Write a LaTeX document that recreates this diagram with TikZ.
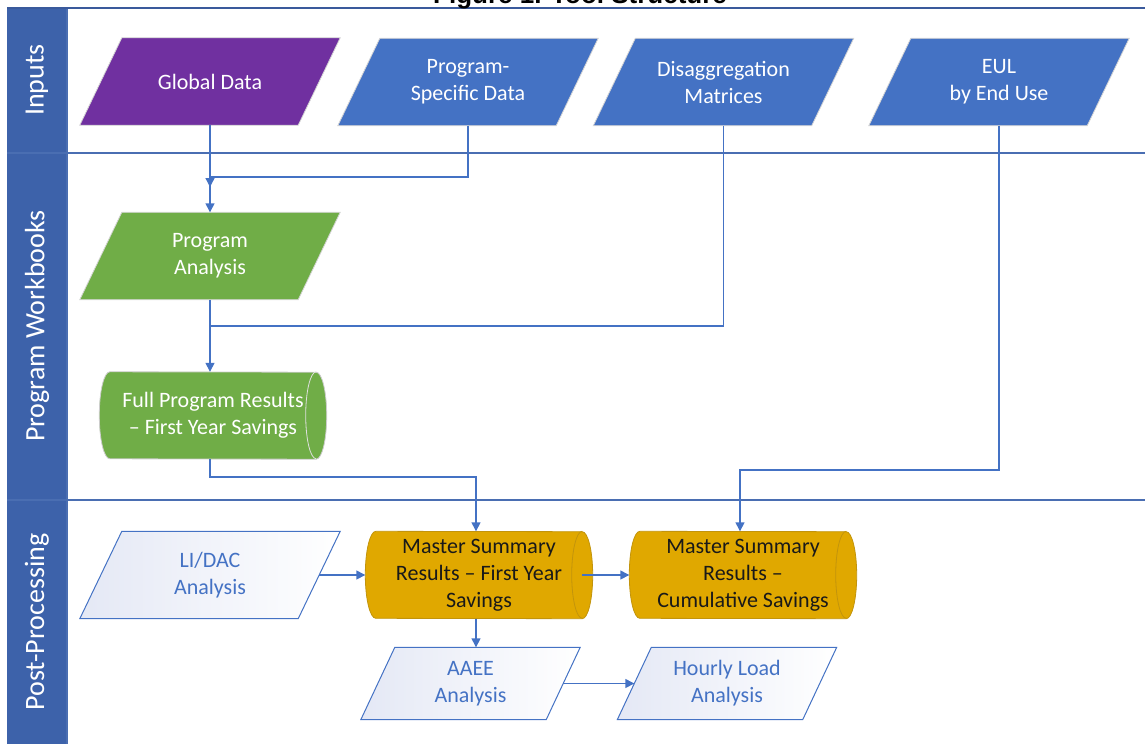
\documentclass[tikz,border=0pt]{standalone}
\usepackage{fontspec}
\setmainfont{Carlito}
\newfontfamily\titlefont{Liberation Sans}
\usetikzlibrary{arrows.meta,calc,backgrounds}

\definecolor{laneblue}{HTML}{3D62AA}
\definecolor{laneline}{HTML}{4A6EB2}
\definecolor{frameline}{HTML}{3A5A9C}
\definecolor{inblue}{HTML}{4472C4}
\definecolor{inpurple}{HTML}{7030A0}
\definecolor{wbgreen}{HTML}{70AD47}
\definecolor{ppgold}{HTML}{E0A800}
\definecolor{ppgoldline}{HTML}{C2940C}
\definecolor{ltfill}{HTML}{E4E8F5}
\definecolor{conn}{HTML}{4472C4}
\definecolor{edgegray}{HTML}{D4D4D4}

% slanted data box drawn around a named node: node, half slant, style
\newcommand\slantbox[3]{%
  \path[#3] ($(#1.south west)+(-#2,0)$) -- ($(#1.north west)+(#2,0)$)
    -- ($(#1.north east)+(#2,0)$) -- ($(#1.south east)+(-#2,0)$) -- cycle;}

% lying drum around a named node (node box runs between the end centres):
% node, end x radius, style, end outline colour
\newcommand\drumshape[4]{%
  \path[#3] (#1.north west)
      arc[start angle=270, end angle=90, x radius=#2, y radius=43.5]
      -- (#1.south east)
      arc[start angle=90, end angle=-90, x radius=#2, y radius=43.5] -- cycle;
  \draw[#4, line width=0.8] (#1.north east)
      arc[start angle=270, end angle=90, x radius=#2, y radius=43.5];}

\begin{document}
\begin{tikzpicture}[x=1pt,y=-1pt,
  box/.style={inner sep=0pt, align=center, font=\fontsize{22}{27}\selectfont},
  bigpara/.style={box, minimum width=218, minimum height=87},
  smallpara/.style={box, minimum width=185, minimum height=72},
  drumbox/.style={box, minimum width=206, minimum height=87},
  arr/.style={draw=conn, line width=1.4, -{Triangle[length=9pt,width=9pt]}},
  wire/.style={draw=conn, line width=1.4},
  lane/.style={rotate=90, text=white, font=\fontsize{28}{34}\selectfont},
  solidpara/.style={draw=edgegray, line width=0.8},
  lightpara/.style={draw=inblue, line width=1, left color=ltfill, right color=white},
]
\useasboundingbox (0,0) rectangle (1145,744);
\clip (0,0) rectangle (1145,744);

% caption, cut by the page top
\node[font=\titlefont\bfseries\fontsize{26}{30}\selectfont, anchor=base] (title) at (580,4) {Figure 1. Tool Structure};

% swimlanes
\begin{scope}[on background layer]
  \fill[laneblue] (7,8) rectangle (67,744);
  \draw[laneline, line width=1.2] (67,8) -- (67,744);
  \draw[laneline, line width=1.2] (7,153) -- (1145,153);
  \draw[laneline, line width=1.2] (7,500) -- (1145,500);
  \draw[frameline, line width=2] (7,8) -- (1145,8);
\end{scope}
\node[lane] (lin) at (37,80) {Inputs};
\node[lane] (lwb) at (37,326) {Program Workbooks};
\node[lane] (lpp) at (37,622) {Post-Processing};

% inputs
\node[bigpara, text=white] (gd)  at (210,81.5)   {Global Data};
\node[bigpara, text=white] (psd) at (468,82)   {Program-\\Specific Data};
\node[bigpara, text=white] (dm)  at (723.5,82) {Disaggregation\\Matrices};
\node[bigpara, text=white] (eul) at (999,82)   {EUL\\by End Use};

% program workbooks
\node[bigpara, text=white] (pa) at (210,256) {Program\\Analysis};
\node[drumbox, text=white] (fpr) at (213,415.5) {Full Program Results\\-- First Year Savings};

% post-processing
\node[bigpara, text=inblue] (li) at (210,575) {LI/DAC\\Analysis};
\node[drumbox, text=black!90] (ms) at (479,575) {Master Summary\\Results -- First Year\\Savings};
\node[drumbox, text=black!90] (cs) at (743,575) {Master Summary\\Results --\\Cumulative Savings};
\node[smallpara, text=inblue] (aa) at (470.5,683.5) {AAEE\\Analysis};
\node[smallpara, text=inblue] (hl) at (727,683.5)   {Hourly Load\\Analysis};

% shape outlines behind the texts
\begin{scope}[on background layer]
  \slantbox{gd}{21}{solidpara, fill=inpurple}
  \slantbox{psd}{21}{solidpara, fill=inblue}
  \slantbox{dm}{21}{solidpara, fill=inblue}
  \slantbox{eul}{21}{solidpara, fill=inblue}
  \slantbox{pa}{21}{solidpara, fill=wbgreen}
  \slantbox{li}{21}{lightpara}
  \slantbox{aa}{17}{lightpara}
  \slantbox{hl}{17}{lightpara}
  \drumshape{fpr}{10.5}{fill=wbgreen, draw=gray!40, line width=0.8}{gray!25}
  \drumshape{ms}{10.5}{fill=ppgold, draw=ppgoldline, line width=0.8}{ppgoldline}
  \drumshape{cs}{10.5}{fill=ppgold, draw=ppgoldline, line width=0.8}{ppgoldline}
\end{scope}

% bends of the connectors
\coordinate (j1) at (210,177);
\coordinate (j1d) at (210,187);
\coordinate (j2) at (210,326);
\coordinate (j3) at (476,477);
\coordinate (j4) at (740,470);

% connectors
\draw[arr] (gd.south) -- (pa.north);
\draw[arr] (psd.south) |- (j1) -- (j1d);
\draw[arr] (pa.south) -- (pa.south |- fpr.north);
\draw[wire] (dm.south) |- (j2);
\draw[arr] (fpr.south -| j1) |- (j3) -- (j3 |- ms.north);
\draw[arr] (eul.south) |- (j4) -- (j4 |- cs.north);
\draw[arr] (li.east) -- ($(ms.west)+(-10.5,0)$);
\draw[arr] (ms.east) -- ($(cs.west)+(-10.5,0)$);
\draw[arr] (ms.south -| j3) -- (j3 |- aa.north);
\draw[arr] (aa.east) -- (hl.west);
\end{tikzpicture}
\end{document}
